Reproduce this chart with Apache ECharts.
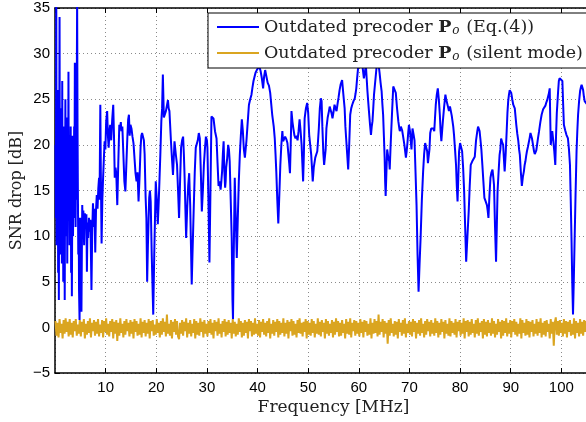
<!DOCTYPE html>
<html><head><meta charset="utf-8">
<script src="https://cdn.jsdelivr.net/npm/echarts@6/dist/echarts.min.js"></script>
<style>html,body{margin:0;padding:0;background:#fff}#c{width:586px;height:422px}</style>
</head><body><div id="c"></div>
<script>
// Blue series: [frequency MHz, SNR drop dB]
const blueSeries = [
[0.10,20],[0.18,12],[0.25,37],[0.32,9],[0.40,22],[0.47,14],[0.55,26],[0.62,6],[0.70,18],[0.76,3.0],
[0.82,16],[0.90,34],[0.97,10],[1.03,21],[1.10,8],[1.17,19],[1.24,12],[1.30,24],[1.36,7],[1.43,27],
[1.50,11],[1.57,20],[1.63,5],[1.70,17],[1.77,9],[1.85,22],[1.92,3],[1.98,14],[2.05,25],[2.12,10],
[2.20,19],[2.27,13],[2.35,23],[2.42,7],[2.50,18],[2.58,12],[2.66,28],[2.72,15],[2.80,21],[2.87,9],
[2.95,20],[3.02,13],[3.10,22],[3.18,6],[3.25,16],[3.33,3.4],[3.40,12],[3.48,21],[3.56,10],[3.63,18],
[3.70,12],[3.78,22],[3.85,15],[3.92,29],[4.00,17],[4.07,11],[4.15,19],[4.22,14],[4.30,26],[4.37,36],
[4.45,22],[4.52,15],[4.60,8],[4.68,12],[4.75,4],[4.85,0.8],[4.92,6],[5.00,12],[5.07,3],[5.15,9],
[5.22,1.7],[5.30,8],[5.38,13.4],[5.5,10],[5.6,12.8],[5.75,9],[5.9,12.5],[6.05,11],[6.2,12.4],[6.3,6.1],
[6.42,11.5],[6.55,9.8],[6.7,12],[6.85,10.5],[7.0,11.8],[7.2,4.1],[7.35,10.5],[7.5,13.6],[7.65,11],[7.8,13],
[7.95,8.2],[8.1,12.8],[8.25,14.5],[8.4,13],[8.55,15.2],[8.7,16.4],[8.8,14],[8.95,24.4],[9.05,17],[9.2,9.2],
[9.35,14],[9.5,16.4],[9.65,18.5],[9.8,20.4],[9.95,19.5],[10.1,22.5],[10.3,23.7],[10.45,21],[10.6,19.7],[10.75,21.5],
[10.9,22.2],[11.1,20.5],[11.3,22.8],[11.5,24.4],[11.65,21],[11.8,16.4],[11.95,17.5],[12.1,16.9],[12.3,13.4],[12.5,18],
[12.7,22.2],[12.85,21.8],[13.0,22.5],[13.1,21.5],[13.3,22],[13.5,19],[13.7,16],[13.9,14.9],[14.1,18],[14.3,21],
[14.45,22.8],[14.6,23.3],[14.75,21],[14.9,22.2],[15.1,21.8],[15.3,20.9],[15.5,20.2],[15.7,20],[15.9,16.9],[16.1,16],
[16.3,17],[16.5,13.8],[16.7,16.5],[16.9,19.7],[17.05,21],[17.2,21.3],[17.4,21.5],[17.55,20.5],[17.7,19],[17.9,14.2],
[18.05,12],[18.2,5.0],[18.35,9],[18.6,14.2],[18.75,15],[18.9,13.8],[19.1,8],[19.4,1.4],[19.6,8],[19.9,16],
[20.1,14],[20.3,11.3],[20.5,14],[20.8,18.9],[21.0,22.6],[21.15,24],[21.3,27.7],[21.5,23],[21.7,22.9],[21.9,23.7],
[22.1,23.5],[22.3,24.9],[22.45,24],[22.6,23.7],[22.9,20.4],[23.1,18.5],[23.3,16.7],[23.45,18.5],[23.6,20.4],[23.85,19],
[24.1,17.8],[24.3,15],[24.5,12.0],[24.7,16],[24.9,19.7],[25.1,20.5],[25.3,20.9],[25.45,19],[25.6,16.4],[25.75,13],
[25.9,9.8],[26.1,13],[26.3,15.5],[26.5,16.9],[26.6,15],[26.7,13.4],[26.85,9],[27.0,4.7],[27.15,8],[27.4,13.1],
[27.6,17],[27.8,19.7],[28.0,19.5],[28.2,20.5],[28.4,21.3],[28.6,20.7],[28.8,17],[29.0,12.7],[29.2,15],[29.4,17.8],
[29.6,19.5],[29.8,20.9],[30.0,20.5],[30.1,19.7],[30.3,14],[30.5,7.1],[30.7,15],[30.9,23.1],[31.1,23.3],[31.3,22.9],
[31.6,21.5],[31.9,20.7],[32.1,18],[32.3,15.5],[32.5,16],[32.7,15.1],[32.85,16],[33.0,17.1],[33.15,19],[33.3,20.4],
[33.45,17],[33.6,15.3],[33.7,16],[33.8,17.5],[34.0,18.5],[34.2,20],[34.35,19.5],[34.5,18.2],[34.7,14],[34.9,9.8],
[35.05,3],[35.15,0.9],[35.3,8],[35.5,16.4],[35.7,12],[35.9,7.6],[36.1,12],[36.3,16],[36.5,18.9],[36.7,21],
[36.9,22.8],[37.1,21.5],[37.3,19.5],[37.5,18.6],[37.8,20.4],[38.0,22],[38.3,24.4],[38.55,25],[38.8,25.5],[39.0,26.3],
[39.2,27],[39.4,27.2],[39.6,27.9],[39.85,28.2],[40.1,28.4],[40.35,28.6],[40.6,28.1],[40.85,27.3],[41.1,26.2],[41.3,27.5],
[41.5,28.2],[41.75,27.5],[42.0,26.8],[42.25,26.5],[42.5,25.7],[42.7,24.5],[42.9,23.3],[43.2,22],[43.4,20.7],[43.55,19],
[43.7,17.1],[43.9,14],[44.1,11.4],[44.3,14.5],[44.5,17.8],[44.7,20],[44.9,21.5],[45.05,20.4],[45.2,20.4],[45.45,20.9],
[45.7,20.6],[45.9,20.2],[46.1,20],[46.25,18],[46.4,16.9],[46.55,20],[46.7,23.7],[46.9,22.5],[47.1,21.7],[47.3,21],
[47.5,20.7],[47.7,21],[47.9,20.5],[48.1,21.5],[48.3,22.8],[48.5,21.5],[48.7,20],[48.85,18],[49.0,16],[49.15,19],
[49.3,22.9],[49.55,24],[49.8,24.6],[50.0,23.5],[50.2,21.1],[50.4,20],[50.6,18.9],[50.75,17.5],[50.9,16],[51.1,17.5],
[51.4,18.6],[51.6,18.8],[51.8,19.3],[51.95,20.5],[52.1,21.8],[52.3,24],[52.5,25.1],[52.65,24.8],[52.8,22],[53.0,19],
[53.15,17.8],[53.3,17.6],[53.45,19.5],[53.6,21.8],[53.85,23],[54.1,23.7],[54.25,24.2],[54.4,24.4],[54.6,23.5],[54.8,22.9],
[55.0,23.6],[55.2,24.4],[55.4,24],[55.6,23.7],[55.8,24.5],[56.0,25.2],[56.2,26],[56.4,26.6],[56.7,27.1],[56.95,25.5],
[57.2,24],[57.35,22],[57.5,20.7],[57.7,19],[57.9,17.3],[58.1,20],[58.3,23.3],[58.5,24],[58.7,24.4],[58.95,24.8],
[59.2,25.1],[59.35,25.6],[59.5,26.2],[59.65,27.2],[59.8,28.1],[60.0,29.2],[60.2,29.8],[60.5,29.6],[60.75,28.5],[61.0,27.3],
[61.2,28.0],[61.4,28.7],[61.55,27.3],[61.7,25.9],[61.85,24.8],[62.0,23.7],[62.2,22.3],[62.4,21.1],[62.55,22],[62.7,22.6],
[62.85,24],[63.0,25.5],[63.25,27],[63.5,28.5],[63.8,29.3],[64.1,27.9],[64.3,26.8],[64.5,25.9],[64.65,24.5],[64.8,23.3],
[64.95,21],[65.1,18.6],[65.2,16],[65.3,14.4],[65.45,17],[65.6,19.5],[65.7,19.3],[65.85,18.5],[66.0,18.2],[66.1,17.3],
[66.25,19.5],[66.4,21.5],[66.6,24],[66.8,26.4],[67.05,26.2],[67.3,25.7],[67.55,24],[67.8,22.6],[68.0,21.8],[68.1,21.5],
[68.3,22],[68.4,22.2],[68.55,21.6],[68.7,21.1],[69.0,20],[69.3,18.6],[69.45,19.3],[69.6,20.2],[69.75,21.3],[69.9,22.2],
[70.1,21.5],[70.4,19.5],[70.6,21.8],[70.85,21],[71.0,20.5],[71.2,17],[71.4,13.4],[71.6,8],[71.8,3.9],[72.0,7],
[72.2,9.8],[72.45,14],[72.7,17.1],[72.9,19],[73.1,20.2],[73.3,20],[73.5,19.3],[73.65,18],[73.8,17.8],[73.95,19.5],
[74.1,21.3],[74.3,21.8],[74.5,22],[74.7,21.8],[74.9,21.5],[75.05,23],[75.2,24.4],[75.4,25.5],[75.6,26.2],[75.8,25],
[76.0,23.3],[76.15,21.5],[76.3,20.4],[76.45,21.5],[76.6,22.6],[76.85,24.2],[77.1,25.5],[77.25,25],[77.4,24.8],[77.6,24.2],
[77.8,23.7],[78.0,24.2],[78.2,24],[78.35,23.2],[78.5,22.6],[78.65,22],[78.8,21.1],[79.0,19.5],[79.2,17.8],[79.35,15.5],
[79.5,13.8],[79.65,16.5],[79.8,19.3],[80.0,20.2],[80.1,20.4],[80.25,20],[80.4,19.3],[80.6,17.5],[80.8,14.9],[81.0,11],
[81.2,7.2],[81.45,10],[81.7,12.7],[81.9,15.5],[82.1,17.8],[82.25,18],[82.4,18.2],[82.65,18.4],[82.9,18.7],[83.15,20.5],
[83.4,21.5],[83.55,22],[83.7,22.2],[83.85,21.5],[84.0,20.7],[84.2,19.5],[84.4,17.8],[84.6,16],[84.8,14.2],[85.05,13.8],
[85.3,13.4],[85.45,12.8],[85.6,12.0],[85.8,14.5],[86.0,16.4],[86.2,17],[86.4,17.3],[86.55,16.5],[86.7,15.6],[86.9,11],
[87.1,7.2],[87.25,11],[87.4,14.9],[87.6,17],[87.8,18.9],[87.95,19.5],[88.1,20.7],[88.3,20.3],[88.5,20],[88.65,18.5],
[88.8,17.1],[89.0,19],[89.2,21.5],[89.35,23.5],[89.5,24.8],[89.65,25.5],[89.8,26],[90.0,25.8],[90.1,25.7],[90.3,25],
[90.5,24.4],[90.8,24],[91.1,22.2],[91.3,21.2],[91.5,20.4],[91.65,19.5],[91.8,18.9],[92.0,17],[92.2,15.5],[92.4,16.5],
[92.6,17.1],[92.75,17.8],[92.9,18.2],[93.05,18.8],[93.2,19.3],[93.4,19.8],[93.6,20],[93.75,20.8],[93.9,21.3],[94.05,21],
[94.2,20.7],[94.4,20],[94.6,19.3],[94.75,19],[94.9,18.9],[95.05,19.4],[95.2,20],[95.4,20.8],[95.6,21.5],[95.85,22.5],
[96.1,23.3],[96.25,23.6],[96.4,23.9],[96.55,23.8],[96.7,24],[96.85,24.3],[97.0,24.6],[97.2,24.9],[97.4,25.1],[97.55,25.7],
[97.7,26.2],[97.8,23],[97.9,20],[98.05,20.8],[98.2,21.5],[98.4,20.5],[98.6,19.3],[98.8,17.8],[98.95,21],[99.1,23.5],
[99.2,24.4],[99.35,25.8],[99.5,27],[99.65,27.3],[99.8,27.5],[100.0,27.3],[100.2,27],[100.35,24.5],[100.5,22.2],[100.75,21.6],
[101.0,21.1],[101.15,20.9],[101.3,20.7],[101.5,19.5],[101.7,17.8],[101.85,14],[102.0,9.8],[102.15,5],[102.3,1.4],[102.45,5],
[102.6,9.1],[102.8,14.5],[103.0,19.3],[103.15,21.5],[103.3,23.3],[103.5,24.8],[103.7,25.9],[103.85,26.3],[104.0,26.6],[104.15,26.4],
[104.3,26],[104.45,25.3],[104.6,24.8],[104.8,25],[105.0,24.5]
];

// Gold series (silent mode): SNR drop values sampled every goldStep MHz starting at goldStart
const goldStart = 0.1;
const goldStep = 0.2;
const goldSNR = [
0.7,-0.9,0.5,-1.1,0.9,-0.6,0.4,-1.2,0.8,-0.7,1.0,-0.5,0.6,-1.0,0.9,-0.8,0.5,-1.1,0.7,-0.4,0.9,-0.9,0.3,-0.7,0.8,
-1.0,0.6,-0.5,0.9,-1.2,0.4,-0.8,0.7,-0.6,1.0,-1.1,0.5,-0.4,0.8,-0.9,0.6,-0.7,0.9,-1.0,0.3,-0.6,0.8,-1.1,0.7,-0.5,
1.0,-0.8,0.4,-1.0,0.7,-0.5,0.9,-1.2,0.6,-0.7,0.8,-1.5,0.5,-0.9,1.0,-0.6,0.4,-1.1,0.7,-0.8,0.9,-0.4,0.5,-1.0,0.8,
-0.7,0.6,-1.2,0.9,-0.5,0.7,-0.9,0.4,-0.8,1.0,-1.1,0.6,-0.6,0.8,-1.0,0.5,-0.7,0.9,-1.2,0.7,-0.4,0.8,-0.9,0.3,-0.8,
0.9,-0.6,0.5,-1.1,0.7,-0.8,1.0,-0.5,0.6,-1.0,1.4,-0.7,0.4,-0.9,0.8,-1.2,0.6,-0.5,0.9,-0.8,0.7,-1.0,-1.3,0.5,-0.7,
0.8,-0.9,0.6,-0.4,1.0,-1.1,0.5,-0.7,0.8,-1.0,0.4,-0.6,0.9,-1.2,0.7,-0.8,0.5,-0.9,1.0,-0.5,0.6,-1.1,0.8,-0.7,0.4,
-1.0,0.7,-0.6,0.9,-0.8,0.5,-1.2,0.8,-0.4,0.6,-0.9,1.0,-0.7,0.4,-1.1,0.7,-0.5,0.9,-1.0,0.6,-0.8,0.8,-0.6,0.5,-1.2,
0.9,-0.7,0.6,-1.0,0.4,-0.8,1.0,-0.5,0.7,-1.1,0.5,-0.9,0.8,-0.6,0.6,-1.2,0.9,-0.4,0.7,-1.0,0.5,-0.8,1.0,-0.7,0.4,
-0.9,0.8,-1.1,0.6,-0.5,0.9,-0.8,0.5,-1.0,0.7,-0.6,1.0,-1.2,0.4,-0.7,0.8,-0.9,0.6,-0.5,0.9,-1.1,0.7,-0.8,0.5,-0.6,
1.0,-1.0,0.5,-0.7,0.8,-1.2,0.6,-0.4,0.9,-0.9,0.7,-0.8,0.4,-1.1,0.8,-0.6,1.0,-0.7,0.5,-1.0,0.6,-0.5,0.9,-1.2,0.7,
-0.8,0.5,-0.9,0.9,-0.6,0.7,-1.1,0.4,-0.7,1.0,-0.8,0.6,-1.0,0.8,-0.5,0.5,-1.2,0.9,-0.7,0.7,-0.9,0.4,-0.6,0.8,-1.1,
0.6,-0.8,1.0,-0.5,0.7,-1.0,0.5,-0.9,0.8,-0.6,0.4,-1.2,0.9,-0.7,0.6,-0.8,1.0,-1.1,0.5,-0.4,0.8,-0.9,0.7,-0.7,0.5,
-1.0,0.9,-0.6,0.6,-1.1,0.8,-0.5,0.7,-0.9,0.4,-0.8,1.0,-1.2,0.5,-0.7,0.9,-0.6,0.7,-1.0,1.4,-0.8,0.6,-0.5,0.9,-1.1,
0.7,-0.7,0.5,-1.8,0.8,-0.9,1.0,-0.6,0.4,-1.0,0.7,-0.8,0.6,-1.2,0.9,-0.5,0.5,-0.9,0.8,-0.7,1.0,-1.1,0.4,-0.6,0.7,
-0.8,0.6,-1.0,0.9,-0.5,0.7,-1.2,0.5,-0.7,0.8,-0.9,1.0,-0.6,0.4,-1.1,0.7,-0.8,0.9,-0.4,0.6,-1.0,0.8,-0.7,0.5,-0.9,
1.0,-0.6,0.7,-1.1,0.5,-0.8,0.9,-0.5,0.6,-1.2,0.8,-0.7,0.4,-0.9,1.0,-1.0,0.7,-0.6,0.5,-0.8,0.9,-1.1,0.6,-0.4,0.8,
-0.9,0.5,-0.7,1.0,-1.2,0.7,-0.5,0.8,-1.0,0.6,-0.8,0.9,-0.6,0.4,-1.1,0.8,-0.7,1.0,-0.9,0.5,-0.5,0.7,-1.2,0.9,-0.8,
0.6,-1.0,0.8,-0.6,0.5,-0.9,1.0,-0.7,0.7,-1.1,0.4,-0.8,0.9,-0.5,0.6,-1.2,0.8,-0.9,0.7,-0.6,1.0,-1.0,0.5,-0.7,0.8,
-1.1,0.7,-0.5,0.9,-0.8,0.6,-1.0,0.4,-0.7,1.0,-1.2,0.8,-0.6,0.5,-0.9,0.9,-0.8,0.7,-1.1,0.6,-0.5,0.8,-1.0,0.4,-0.7,
0.9,-0.9,0.6,-0.6,1.0,-1.1,0.5,-0.8,0.7,-1.0,0.8,-0.5,0.4,-1.2,0.9,-0.7,0.6,-2.0,0.5,1.1,-0.8,0.7,-0.9,0.8,-0.6,
0.5,-1.0,0.9,-0.7,0.7,-1.1,0.6,-0.5,0.8,-0.9,0.4,-0.8,1.0,-1.2,0.7,-0.6,0.5,-1.0,0.9,-0.7,0.6,-0.9,0.8,-0.5,0.7
];

const seriesNames = ['Outdated precoder P_o (Eq.(4))', 'Outdated precoder P_o (silent mode)'];
const xMin = 0, xMax = 110, xInterval = 10;
const yMin = -5, yMax = 35, yInterval = 5;

const goldSeries = goldSNR.map((v, i) => [goldStart + goldStep * i, v]);

const chart = echarts.init(document.getElementById('c'), null, {renderer: 'canvas'});
const sansFont = 'Liberation Sans';
const serifFont = 'DejaVu Serif';
const axisBlack = {color: '#000', width: 1.5};
const dotted = {type: [1, 3], color: '#8a8a8a', width: 1};

chart.setOption({
  animation: false,
  backgroundColor: '#fff',
  grid: {left: 55, top: 8, width: 557, bottom: 49, containLabel: false, outerBoundsMode: 'none'},
  legend: {
    orient: 'vertical', left: 208, top: 13,
    backgroundColor: '#fff', borderColor: '#000', borderWidth: 1, borderRadius: 0,
    padding: [4, 6, 5, 9], itemWidth: 42, itemHeight: 2, itemGap: 6,
    icon: 'rect',
    data: seriesNames,
    formatter: name => name.replace('P_o', '{b|P}{s|o}'),
    textStyle: {
      fontFamily: serifFont, fontSize: 17.5, color: '#222', lineHeight: 20,
      rich: {
        b: {fontFamily: serifFont, fontSize: 17.5, fontWeight: 'bold', color: '#222', lineHeight: 20},
        s: {fontFamily: serifFont, fontSize: 12, fontStyle: 'italic', color: '#222', lineHeight: 20, padding: [7, 1, 0, 1]}
      }
    }
  },
  xAxis: [{
    type: 'value', position: 'bottom', min: xMin, max: xMax, interval: xInterval,
    axisLine: {show: true, onZero: false, lineStyle: axisBlack},
    axisTick: {show: true, inside: true, length: 5, lineStyle: {color: '#000'}},
    axisLabel: {showMinLabel: false, showMaxLabel: false, fontFamily: sansFont, fontSize: 15, color: '#000', margin: 7},
    splitLine: {show: true, lineStyle: dotted},
    name: 'Frequency [MHz]', nameLocation: 'middle', nameGap: 26, nameMoveOverlap: false,
    nameTextStyle: {fontFamily: serifFont, fontSize: 17, color: '#222'}
  }, {
    type: 'value', position: 'top', min: xMin, max: xMax, interval: xInterval,
    axisLine: {show: true, onZero: false, lineStyle: axisBlack},
    axisTick: {show: true, inside: true, length: 5, lineStyle: {color: '#000'}},
    axisLabel: {show: false}, splitLine: {show: false}
  }],
  yAxis: {
    type: 'value', min: yMin, max: yMax, interval: yInterval,
    axisLine: {show: true, onZero: false, lineStyle: axisBlack},
    axisTick: {show: true, inside: true, length: 5, lineStyle: {color: '#000'}},
    axisLabel: {fontFamily: sansFont, fontSize: 15, color: '#000', margin: 5,
      formatter: v => v < 0 ? '\u2212' + Math.abs(v) : String(v)},
    splitLine: {show: true, lineStyle: dotted},
    name: 'SNR drop [dB]', nameLocation: 'middle', nameGap: 30, nameMoveOverlap: false,
    nameTextStyle: {fontFamily: serifFont, fontSize: 16, color: '#222'}
  },
  series: [{
    name: seriesNames[0], type: 'line', data: blueSeries, xAxisIndex: 0,
    symbol: 'none', showSymbol: false, clip: true,
    lineStyle: {color: '#0000ff', width: 2}, itemStyle: {color: '#0000ff'}
  }, {
    name: seriesNames[1], type: 'line', data: goldSeries, xAxisIndex: 0,
    symbol: 'none', showSymbol: false, clip: true,
    lineStyle: {color: '#DAA520', width: 2}, itemStyle: {color: '#DAA520'}
  }]
});
</script>
</body></html>
